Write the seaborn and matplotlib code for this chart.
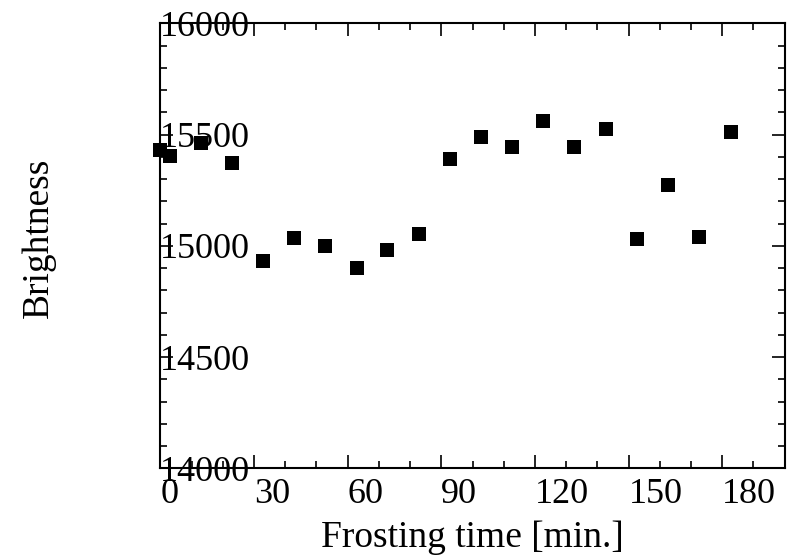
import matplotlib
matplotlib.use("Agg")
import matplotlib.pyplot as plt
from matplotlib.ticker import MultipleLocator
import seaborn as sns
import pandas as pd

# Frosting time (minutes) and measured brightness
frosting_time = [0, 3.1, 12.9, 22.9, 33.0, 42.8, 52.8, 62.9, 72.7, 82.9,
                 92.8, 102.7, 112.7, 122.7, 132.6, 142.7, 152.8, 162.7, 172.6, 182.7]
brightness = [15431, 15405, 15463, 15373, 14932, 15034, 15000, 14902, 14981, 15053,
              15391, 15490, 15443, 15562, 15443, 15524, 15032, 15272, 15041, 15513]

x_ticks = [0, 30, 60, 90, 120, 150, 180]
y_ticks = [14000, 14500, 15000, 15500, 16000]

df = pd.DataFrame({"Frosting time [min.]": frosting_time, "Brightness": brightness})

sns.set_style("ticks")
plt.rcParams["font.family"] = ["Liberation Serif", "DejaVu Serif"]
plt.rcParams["text.color"] = "black"
plt.rcParams["axes.labelcolor"] = "black"
plt.rcParams["xtick.color"] = "black"
plt.rcParams["ytick.color"] = "black"
plt.rcParams["axes.edgecolor"] = "black"

fig = plt.figure(figsize=(7.96, 5.57), dpi=100)
ax = fig.add_axes([0.2014, 0.1592, 0.7844, 0.7990])

sns.scatterplot(data=df, x="Frosting time [min.]", y="Brightness", ax=ax,
                marker="s", s=92, color="black", linewidth=0, clip_on=False, zorder=3)

ax.set_xlim(0, 200)
ax.set_ylim(14000, 16000)
ax.xaxis.set_major_locator(MultipleLocator(30))
ax.xaxis.set_minor_locator(MultipleLocator(10))
ax.yaxis.set_major_locator(MultipleLocator(500))
ax.yaxis.set_minor_locator(MultipleLocator(100))
ax.set_xticks(x_ticks)
ax.set_yticks(y_ticks)
ax.set_xticklabels([str(v) for v in x_ticks])
ax.set_yticklabels([str(v) for v in y_ticks])

for side in ["left", "right", "top", "bottom"]:
    ax.spines[side].set_visible(True)
    ax.spines[side].set_linewidth(1.5)
    ax.spines[side].set_color("black")

ax.tick_params(which="both", direction="in", top=True, right=True,
               color="black", labelcolor="black")
ax.tick_params(which="major", length=9.5, width=1.2)
ax.tick_params(which="minor", length=5, width=1.2)
ax.tick_params(axis="x", which="major", labelsize=26, pad=7)
ax.tick_params(axis="y", which="major", labelsize=26, pad=0)

for lbl in ax.get_xticklabels():
    lbl.set_horizontalalignment("left")
for lbl in ax.get_yticklabels():
    lbl.set_horizontalalignment("left")

ax.set_xlabel("Frosting time [min.]", fontsize=27, labelpad=7, color="black")
ax.set_ylabel("Brightness", fontsize=27, color="black")
ax.yaxis.set_label_coords(-0.168, 0.518)

fig.savefig("out.png", dpi=100)
